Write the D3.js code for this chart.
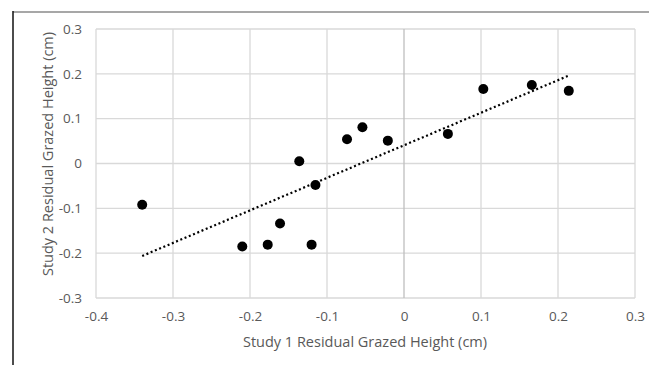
<!DOCTYPE html>
<html>
<head>
<meta charset="utf-8">
<script src="https://cdn.jsdelivr.net/npm/d3@7"></script>
<style>
  body { margin: 0; background: #fff; }
  text { font-family: "Open Sans", "Liberation Sans", sans-serif; }
</style>
</head>
<body>
<div id="chart"></div>
<script>
// residual grazed heights (cm), study 1 vs study 2
const study1 = [-0.340, -0.210, -0.177, -0.161, -0.136, -0.120, -0.115, -0.074, -0.054, -0.021, 0.057, 0.103, 0.166, 0.214]
const study2 = [-0.092, -0.185, -0.181, -0.134, 0.005, -0.181, -0.048, 0.054, 0.081, 0.051, 0.066, 0.166, 0.175, 0.162]
const xTicks = [-0.4, -0.3, -0.2, -0.1, 0, 0.1, 0.2, 0.3]
const yTicks = [-0.3, -0.2, -0.1, 0, 0.1, 0.2, 0.3]

const width = 649
const height = 365
const plot = { left: 96, right: 635, top: 29, bottom: 298 }

const points = study1.map((x, i) => ({ x: x, y: study2[i] }))

const svg = d3.select("#chart").append("svg")
    .attr("width", width)
    .attr("height", height)

const x = d3.scaleLinear().domain([-0.4, 0.3]).range([plot.left, plot.right])
const y = d3.scaleLinear().domain([-0.3, 0.3]).range([plot.bottom, plot.top])

// frame lines
svg.append("line")
    .attr("x1", 13).attr("x2", width).attr("y1", 12).attr("y2", 12)
    .attr("stroke", "#8a8a8a").attr("stroke-width", 1.5)
svg.append("line")
    .attr("x1", 13).attr("x2", 13).attr("y1", 11).attr("y2", height)
    .attr("stroke", "#111").attr("stroke-width", 1.5)

// gridlines
svg.append("g")
    .selectAll("line")
    .data(yTicks)
    .enter()
    .append("line")
    .attr("x1", plot.left).attr("x2", plot.right)
    .attr("y1", d => y(d)).attr("y2", d => y(d))
    .attr("stroke", "#d9d9d9")
    .attr("stroke-width", 1.3)

svg.append("g")
    .selectAll("line")
    .data(xTicks)
    .enter()
    .append("line")
    .attr("y1", plot.top).attr("y2", plot.bottom)
    .attr("x1", d => x(d)).attr("x2", d => x(d))
    .attr("stroke", d => d === 0 ? "#bfbfbf" : "#d9d9d9")
    .attr("stroke-width", 1.3)

// axes (labels only, Excel style)
const fmt = d => d === 0 ? "0" : d3.format(".1f")(d).replace("\u2212", "-")

const xAxis = svg.append("g")
    .attr("transform", `translate(0,${plot.bottom + 10})`)
    .call(d3.axisBottom(x).tickValues(xTicks).tickFormat(fmt).tickSize(0))
xAxis.select(".domain").remove()
xAxis.selectAll("text")
    .attr("fill", "#595959")
    .attr("font-size", 13.5)
    .style("font-family", "'Open Sans', 'Liberation Sans', sans-serif")

const yAxis = svg.append("g")
    .attr("transform", `translate(${plot.left - 11},0)`)
    .call(d3.axisLeft(y).tickValues(yTicks).tickFormat(fmt).tickSize(0))
yAxis.select(".domain").remove()
yAxis.selectAll("text")
    .attr("fill", "#595959")
    .attr("font-size", 13.5)
    .style("font-family", "'Open Sans', 'Liberation Sans', sans-serif")

// linear trendline (least squares)
const mx = d3.mean(study1)
const my = d3.mean(study2)
const slope = d3.sum(points, p => (p.x - mx) * (p.y - my)) / d3.sum(points, p => (p.x - mx) ** 2)
const intercept = my - slope * mx
const xExt = d3.extent(study1)

svg.append("line")
    .attr("x1", x(xExt[0])).attr("y1", y(intercept + slope * xExt[0]))
    .attr("x2", x(xExt[1])).attr("y2", y(intercept + slope * xExt[1]))
    .attr("stroke", "#000")
    .attr("stroke-width", 2.2)
    .attr("stroke-dasharray", "2,2.6")

// points
svg.append("g")
    .selectAll("circle")
    .data(points)
    .enter()
    .append("circle")
    .attr("cx", d => x(d.x))
    .attr("cy", d => y(d.y))
    .attr("r", 5)
    .attr("fill", "#000")

// axis titles
svg.append("text")
    .attr("x", 365)
    .attr("y", 347)
    .attr("text-anchor", "middle")
    .attr("font-size", 14.5)
    .attr("fill", "#595959")
    .text("Study 1 Residual Grazed Height (cm)")

svg.append("text")
    .attr("transform", "translate(53,154) rotate(-90)")
    .attr("text-anchor", "middle")
    .attr("font-size", 14.5)
    .attr("fill", "#595959")
    .text("Study 2 Residual Grazed Height (cm)")
</script>
</body>
</html>
